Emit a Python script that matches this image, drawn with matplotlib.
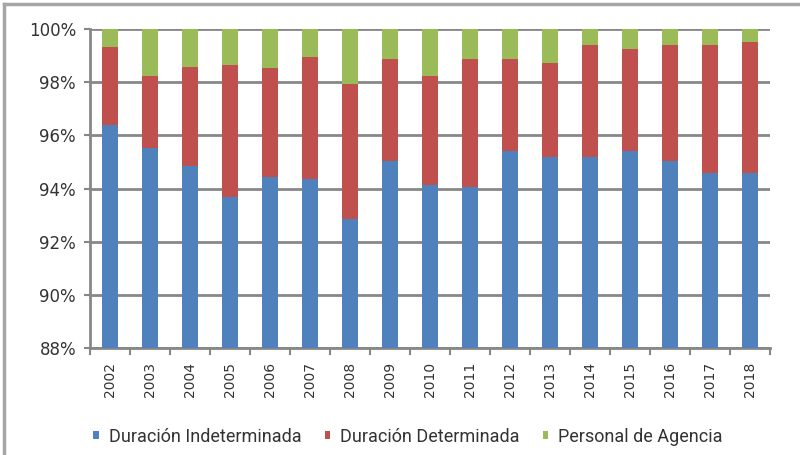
import numpy as np
import matplotlib
matplotlib.use("Agg")
import matplotlib.pyplot as plt
from matplotlib.lines import Line2D
from matplotlib.ticker import FuncFormatter, FixedLocator

years = ['2002', '2003', '2004', '2005', '2006', '2007', '2008', '2009', '2010',
         '2011', '2012', '2013', '2014', '2015', '2016', '2017', '2018']
# shares in percent
indeterminada = [96.39, 95.54, 94.86, 93.70, 94.42, 94.36, 92.85, 95.04, 94.14,
                 94.06, 95.41, 95.18, 95.18, 95.41, 95.04, 94.57, 94.57]
determinada = [2.95, 2.69, 3.72, 4.96, 4.10, 4.60, 5.08, 3.82, 4.09,
               4.80, 3.45, 3.53, 4.21, 3.85, 4.35, 4.82, 4.94]
agencia = [0.66, 1.77, 1.42, 1.34, 1.48, 1.04, 2.07, 1.14, 1.77,
           1.14, 1.14, 1.29, 0.61, 0.74, 0.61, 0.61, 0.49]
labels = ['Duración Indeterminada', 'Duración Determinada', 'Personal de Agencia']
colors = ['#4F81BD', '#C0504D', '#9BBB59']

grid_c = '#878787'

fig = plt.figure(figsize=(8, 4.55), dpi=100)
ax = fig.add_axes([0.1125, 0.235, 0.85, 0.701])

x = np.arange(len(years))
ind = np.array(indeterminada)
det = np.array(determinada)
age = np.array(agencia)
w = 0.4
ax.bar(x, ind, w, color=colors[0], label=labels[0], zorder=3)
ax.bar(x, det, w, bottom=ind, color=colors[1], label=labels[1], zorder=3)
ax.bar(x, age, w, bottom=ind + det, color=colors[2], label=labels[2], zorder=3)

ax.set_ylim(88, 100)
ax.set_xlim(-0.5, len(years) - 0.5)
ax.set_yticks(np.arange(88, 100.1, 2))
ax.yaxis.set_major_formatter(FuncFormatter(lambda v, p: '%d%%' % v))
ax.yaxis.grid(True, color=grid_c, linewidth=2, zorder=0)

ax.set_xticks(x)
ax.set_xticklabels(years, rotation=90, fontsize=10, color='#333333')
ax.xaxis.set_minor_locator(FixedLocator(np.arange(-0.5, len(years), 1)))
ax.tick_params(axis='x', which='major', length=0, pad=10)
ax.tick_params(axis='x', which='minor', length=5, width=1.5, color=grid_c)
ax.tick_params(axis='y', length=4, width=1.5, color=grid_c, labelsize=12,
               labelcolor='#333333', pad=6)

for s in ['top', 'right']:
    ax.spines[s].set_visible(False)
for s in ['left', 'bottom']:
    ax.spines[s].set_color(grid_c)
    ax.spines[s].set_linewidth(2)

leg = fig.legend(loc='center', bbox_to_anchor=(0.51, 0.04), ncol=3, frameon=False,
                 prop={'family': 'Roboto', 'size': 13}, handlelength=0.3,
                 handleheight=0.3, handletextpad=0.55, columnspacing=1.3)
for t in leg.get_texts():
    t.set_color('#333333')

# outer frame (only left and top edges visible in the crop)
fig.add_artist(Line2D([0.005, 0.005], [0, 0.991], transform=fig.transFigure,
                      color='#A6A6A6', linewidth=2.5))
fig.add_artist(Line2D([0.005, 1], [0.991, 0.991], transform=fig.transFigure,
                      color='#A6A6A6', linewidth=2.5))

fig.savefig('out.png', dpi=100)
